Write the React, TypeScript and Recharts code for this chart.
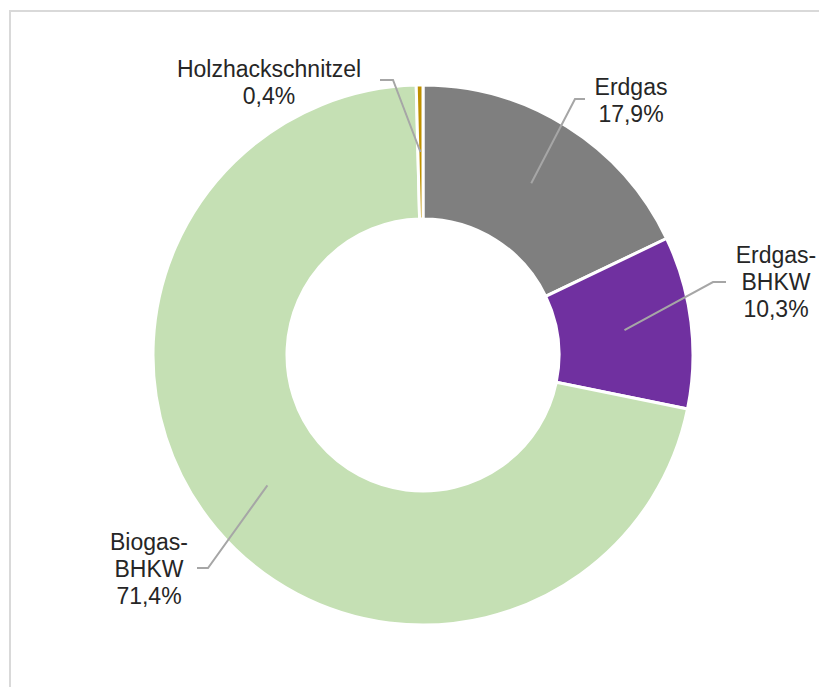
import { Cell, Pie, PieChart } from "recharts";

// Anteil der Energieträger (in %), im Uhrzeigersinn ab 12 Uhr
const categories = ["Erdgas", "Erdgas-BHKW", "Biogas-BHKW", "Holzhackschnitzel"];
const shares = [17.9, 10.3, 71.4, 0.4];
const labelLines = [["Erdgas"], ["Erdgas-", "BHKW"], ["Biogas-", "BHKW"], ["Holzhackschnitzel"]];
const colors = ["#7f7f7f", "#7030a0", "#c5e0b4", "#bf9000"];

// where each data label sits, relative to the pie centre
const labelLayout = [
  { elbow: [152, -256], end: [162, -256], textX: 208, textY: -260 },
  { elbow: [290, -73], end: [303, -73], textX: 353, textY: -92 },
  { elbow: [-215, 213], end: [-226, 213], textX: -274, textY: 195 },
  { elbow: [-30, -275], end: [-43, -275], textX: -154, textY: -278 },
];

const data = categories.map((name, i) => ({ name, value: shares[i] }));

const RAD = Math.PI / 180;
const LINE_H = 27;

function fmtPct(v: number) {
  return v.toFixed(1).replace(".", ",") + "%";
}

function DataLabel(props: any) {
  const { cx, cy, midAngle, innerRadius, outerRadius, index, value } = props;
  const lay = labelLayout[index];
  if (!lay) return null;
  const r = (innerRadius + outerRadius) / 2;
  const sx = cx + r * Math.cos(-midAngle * RAD);
  const sy = cy + r * Math.sin(-midAngle * RAD);
  const pts = [
    [sx, sy],
    [cx + lay.elbow[0], cy + lay.elbow[1]],
    [cx + lay.end[0], cy + lay.end[1]],
  ]
    .map((p) => p.join(","))
    .join(" ");
  const lines = [...labelLines[index], fmtPct(value)];
  return (
    <g>
      <polyline points={pts} fill="none" stroke="#a6a6a6" strokeWidth={2} />
      <text
        x={cx + lay.textX}
        y={cy + lay.textY}
        textAnchor="middle"
        fill="#262626"
        fontSize={23}
        fontFamily="'Liberation Sans', Arial, sans-serif"
      >
        {lines.map((t, i) => (
          <tspan key={i} x={cx + lay.textX} dy={i === 0 ? 0 : LINE_H}>
            {t}
          </tspan>
        ))}
      </text>
    </g>
  );
}

export default function App() {
  return (
    <div style={{ position: "relative", width: 811, height: 679 }}>
      <div
        style={{
          position: "absolute",
          left: 1,
          top: 2,
          width: 815,
          height: 682,
          borderTop: "2px solid #d9d9d9",
          borderLeft: "2px solid #d9d9d9",
        }}
      />
      <PieChart
        width={818}
        height={679}
        margin={{ top: 0, right: 0, bottom: 0, left: 0 }}
        style={{ position: "absolute", left: 0, top: 0 }}
      >
        <Pie
          data={data}
          dataKey="value"
          nameKey="name"
          cx={415}
          cy={347}
          innerRadius={136}
          outerRadius={270}
          startAngle={90}
          endAngle={-270}
          stroke="#ffffff"
          strokeWidth={3}
          label={DataLabel}
          labelLine={false}
          isAnimationActive={false}
        >
          {data.map((d, i) => (
            <Cell key={d.name} fill={colors[i]} />
          ))}
        </Pie>
      </PieChart>
    </div>
  );
}
